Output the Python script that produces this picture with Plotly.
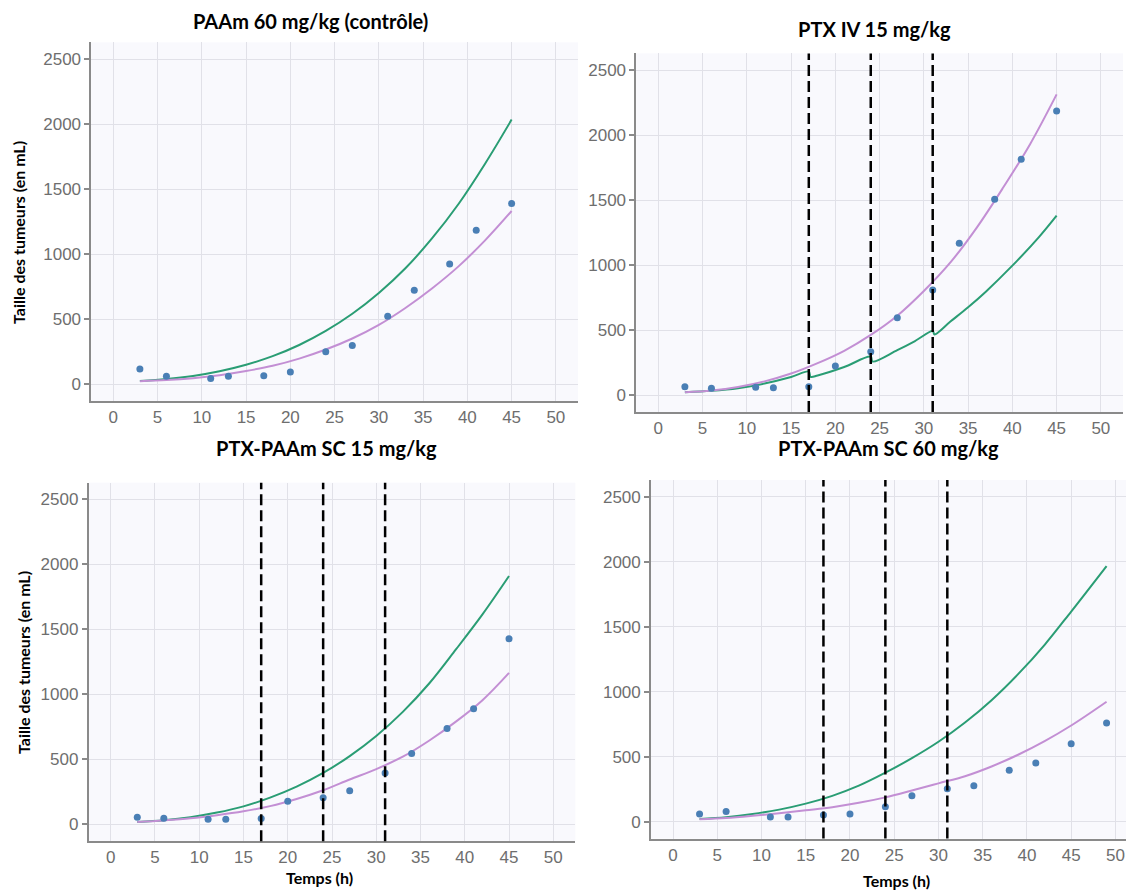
import plotly.graph_objects as go

# page is 1134x890; the browser adds an 8px body margin, so the figure is 8px smaller
OFF = 8
FW, FH = 1134 - OFF, 890 - OFF

# ---------------- data ----------------
panel_titles = ["PAAm 60 mg/kg (contrôle)", "PTX IV 15 mg/kg",
                "PTX-PAAm SC 15 mg/kg", "PTX-PAAm SC 60 mg/kg"]
y_title = "Taille des tumeurs (en mL)"
x_title = "Temps (h)"
x_ticks = [0, 5, 10, 15, 20, 25, 30, 35, 40, 45, 50]
y_ticks = [0, 500, 1000, 1500, 2000, 2500]
dose_times = [17, 24, 31]

t_obs = [3, 6, 11, 13, 17, 20, 24, 27, 31, 34, 38, 41, 45]
obs_ctrl = [115, 59, 43, 59, 64, 92, 248, 297, 522, 722, 924, 1182, 1389]
obs_iv = [64, 51, 59, 56, 64, 223, 333, 595, 808, 1167, 1505, 1813, 2185]
obs_sc15 = [54, 46, 38, 38, 44, 177, 205, 259, 395, 544, 737, 888, 1427]
t_obs4 = [3, 6, 11, 13, 17, 20, 24, 27, 31, 34, 38, 41, 45, 49]
obs_sc60 = [59, 79, 36, 36, 51, 59, 115, 200, 254, 277, 395, 451, 600, 759]

t_fit = [3, 6, 9, 12, 15, 18, 21, 24, 27, 30, 33, 36, 39, 42, 45]
green_ctrl = [23, 38, 62, 98, 148, 214, 300, 408, 540, 700, 890, 1120, 1385, 1695, 2034]
purple_ctrl = [22, 30, 45, 68, 100, 140, 195, 265, 350, 455, 585, 735, 905, 1105, 1331]

purple_iv = [21, 35, 62, 105, 165, 245, 340, 462, 610, 800, 1020, 1290, 1600, 1930, 2313]
t_green_iv = [3, 6, 9, 12, 15, 17, 17.2, 18, 21, 24, 24.2, 27, 29, 31, 31.2,
              33, 35, 37, 40, 43, 45]
green_iv = [21, 32, 52, 88, 138, 180, 140, 150, 215, 295, 258, 345, 415, 492, 466,
            565, 675, 795, 995, 1215, 1380]

green_sc15 = [18, 32, 55, 90, 138, 205, 290, 395, 525, 680, 865, 1085, 1345, 1615, 1910]
purple_sc15 = [18, 30, 46, 70, 100, 140, 195, 262, 345, 425, 520, 645, 790, 955, 1165]

t_fit4 = [3, 6, 9, 12, 15, 18, 21, 24, 27, 30, 33, 36, 39, 42, 45, 49]
green_sc60 = [21, 35, 59, 93, 139, 199, 277, 377, 489, 615, 763, 935, 1135, 1361, 1617, 1967]
purple_sc60 = [18, 28, 45, 65, 88, 112, 145, 187, 240, 295, 350, 425, 515, 620, 740, 923]

# ---------------- style ----------------
GREEN = "#2a9d74"
PURPLE = "#c38fd4"
BLUE = "#4a7fb5"
AXIS = "#8a8a8a"
GRID = "#e1e1e8"
TICKFONT = dict(family="Arial", size=17, color="#6e6e6e")
BOLD = "Lato"


def px_x(v):
    return (v - OFF) / FW


def px_y(v):
    return 1 - (v - OFF) / FH


# plot areas in page pixels: (left, right, top, bottom) and x range
areas = [
    (91.2, 578.0, 42.4, 400.9, [-2.5, 52.5]),
    (636.2, 1123.0, 53.4, 411.9, [-2.5, 52.5]),
    (88.6, 575.4, 482.7, 841.2, [-2.5, 52.5]),
    (650.9, 1134.0, 480.1, 838.6, [-2.5, 52.1]),
]
y_range = [-130, 2628]

fig = go.Figure()

panels = [
    dict(lines=[(t_fit, green_ctrl, GREEN), (t_fit, purple_ctrl, PURPLE)],
         obs=(t_obs, obs_ctrl), doses=False),
    dict(lines=[(t_green_iv, green_iv, GREEN), (t_fit, purple_iv, PURPLE)],
         obs=(t_obs, obs_iv), doses=True),
    dict(lines=[(t_fit, green_sc15, GREEN), (t_fit, purple_sc15, PURPLE)],
         obs=(t_obs, obs_sc15), doses=True),
    dict(lines=[(t_fit4, green_sc60, GREEN), (t_fit4, purple_sc60, PURPLE)],
         obs=(t_obs4, obs_sc60), doses=True),
]

layout = {}
shapes = []
for i, (p, a) in enumerate(zip(panels, areas)):
    n = "" if i == 0 else str(i + 1)
    xa, ya = "x" + n, "y" + n
    left, right, top, bottom, xr = a
    for (tx, ty, col) in p["lines"]:
        fig.add_trace(go.Scatter(x=tx, y=ty, mode="lines", xaxis=xa, yaxis=ya,
                                 line=dict(color=col, width=2, shape="spline", smoothing=1.0),
                                 showlegend=False, hoverinfo="skip"))
    fig.add_trace(go.Scatter(x=p["obs"][0], y=p["obs"][1], mode="markers", xaxis=xa, yaxis=ya,
                             marker=dict(color=BLUE, size=7), showlegend=False))
    layout["xaxis" + n] = dict(
        domain=[px_x(left), min(1.0, px_x(right))], range=xr, anchor=ya,
        tickvals=x_ticks, showgrid=True, gridcolor=GRID, gridwidth=1,
        zeroline=False, showline=True, linecolor=AXIS, linewidth=1.5,
        ticks="", tickfont=TICKFONT, fixedrange=True)
    layout["yaxis" + n] = dict(
        domain=[px_y(bottom), px_y(top)], range=y_range, anchor=xa,
        tickvals=y_ticks, showgrid=True, gridcolor=GRID, gridwidth=1,
        zeroline=False, showline=True, linecolor=AXIS, linewidth=1.5,
        ticks="outside", ticklen=5, tickcolor=AXIS, tickwidth=1.5,
        tickfont=TICKFONT, fixedrange=True)
    if p["doses"]:
        for d in dose_times:
            shapes.append(dict(type="line", xref=xa, yref=ya + " domain",
                               x0=d, x1=d, y0=0, y1=1,
                               line=dict(color="black", width=2.5, dash="11px,5px")))

annotations = []
title_pos = [(310, 21), (874, 29), (326, 448), (888, 448)]
for t, (x, y) in zip(panel_titles, title_pos):
    annotations.append(dict(text="<b>%s</b>" % t, x=px_x(x), y=px_y(y), xref="paper", yref="paper",
                            showarrow=False, xanchor="center", yanchor="middle",
                            font=dict(family=BOLD, size=20, color="black")))
for (x, y) in [(19, 233), (23, 663)]:
    annotations.append(dict(text="<b>%s</b>" % y_title, x=px_x(x), y=px_y(y), xref="paper", yref="paper",
                            showarrow=False, xanchor="center", yanchor="middle", textangle=-90,
                            font=dict(family=BOLD, size=16, color="black")))
for (x, y) in [(319, 877), (896, 880)]:
    annotations.append(dict(text="<b>%s</b>" % x_title, x=px_x(x), y=px_y(y), xref="paper", yref="paper",
                            showarrow=False, xanchor="center", yanchor="middle",
                            font=dict(family=BOLD, size=16, color="black")))

fig.update_layout(
    width=FW, height=FH, margin=dict(l=0, r=0, t=0, b=0),
    paper_bgcolor="white", plot_bgcolor="#f9f9fd",
    shapes=shapes, annotations=annotations, showlegend=False,
    **layout)

fig.write_html("out.html", config={"displayModeBar": False})
